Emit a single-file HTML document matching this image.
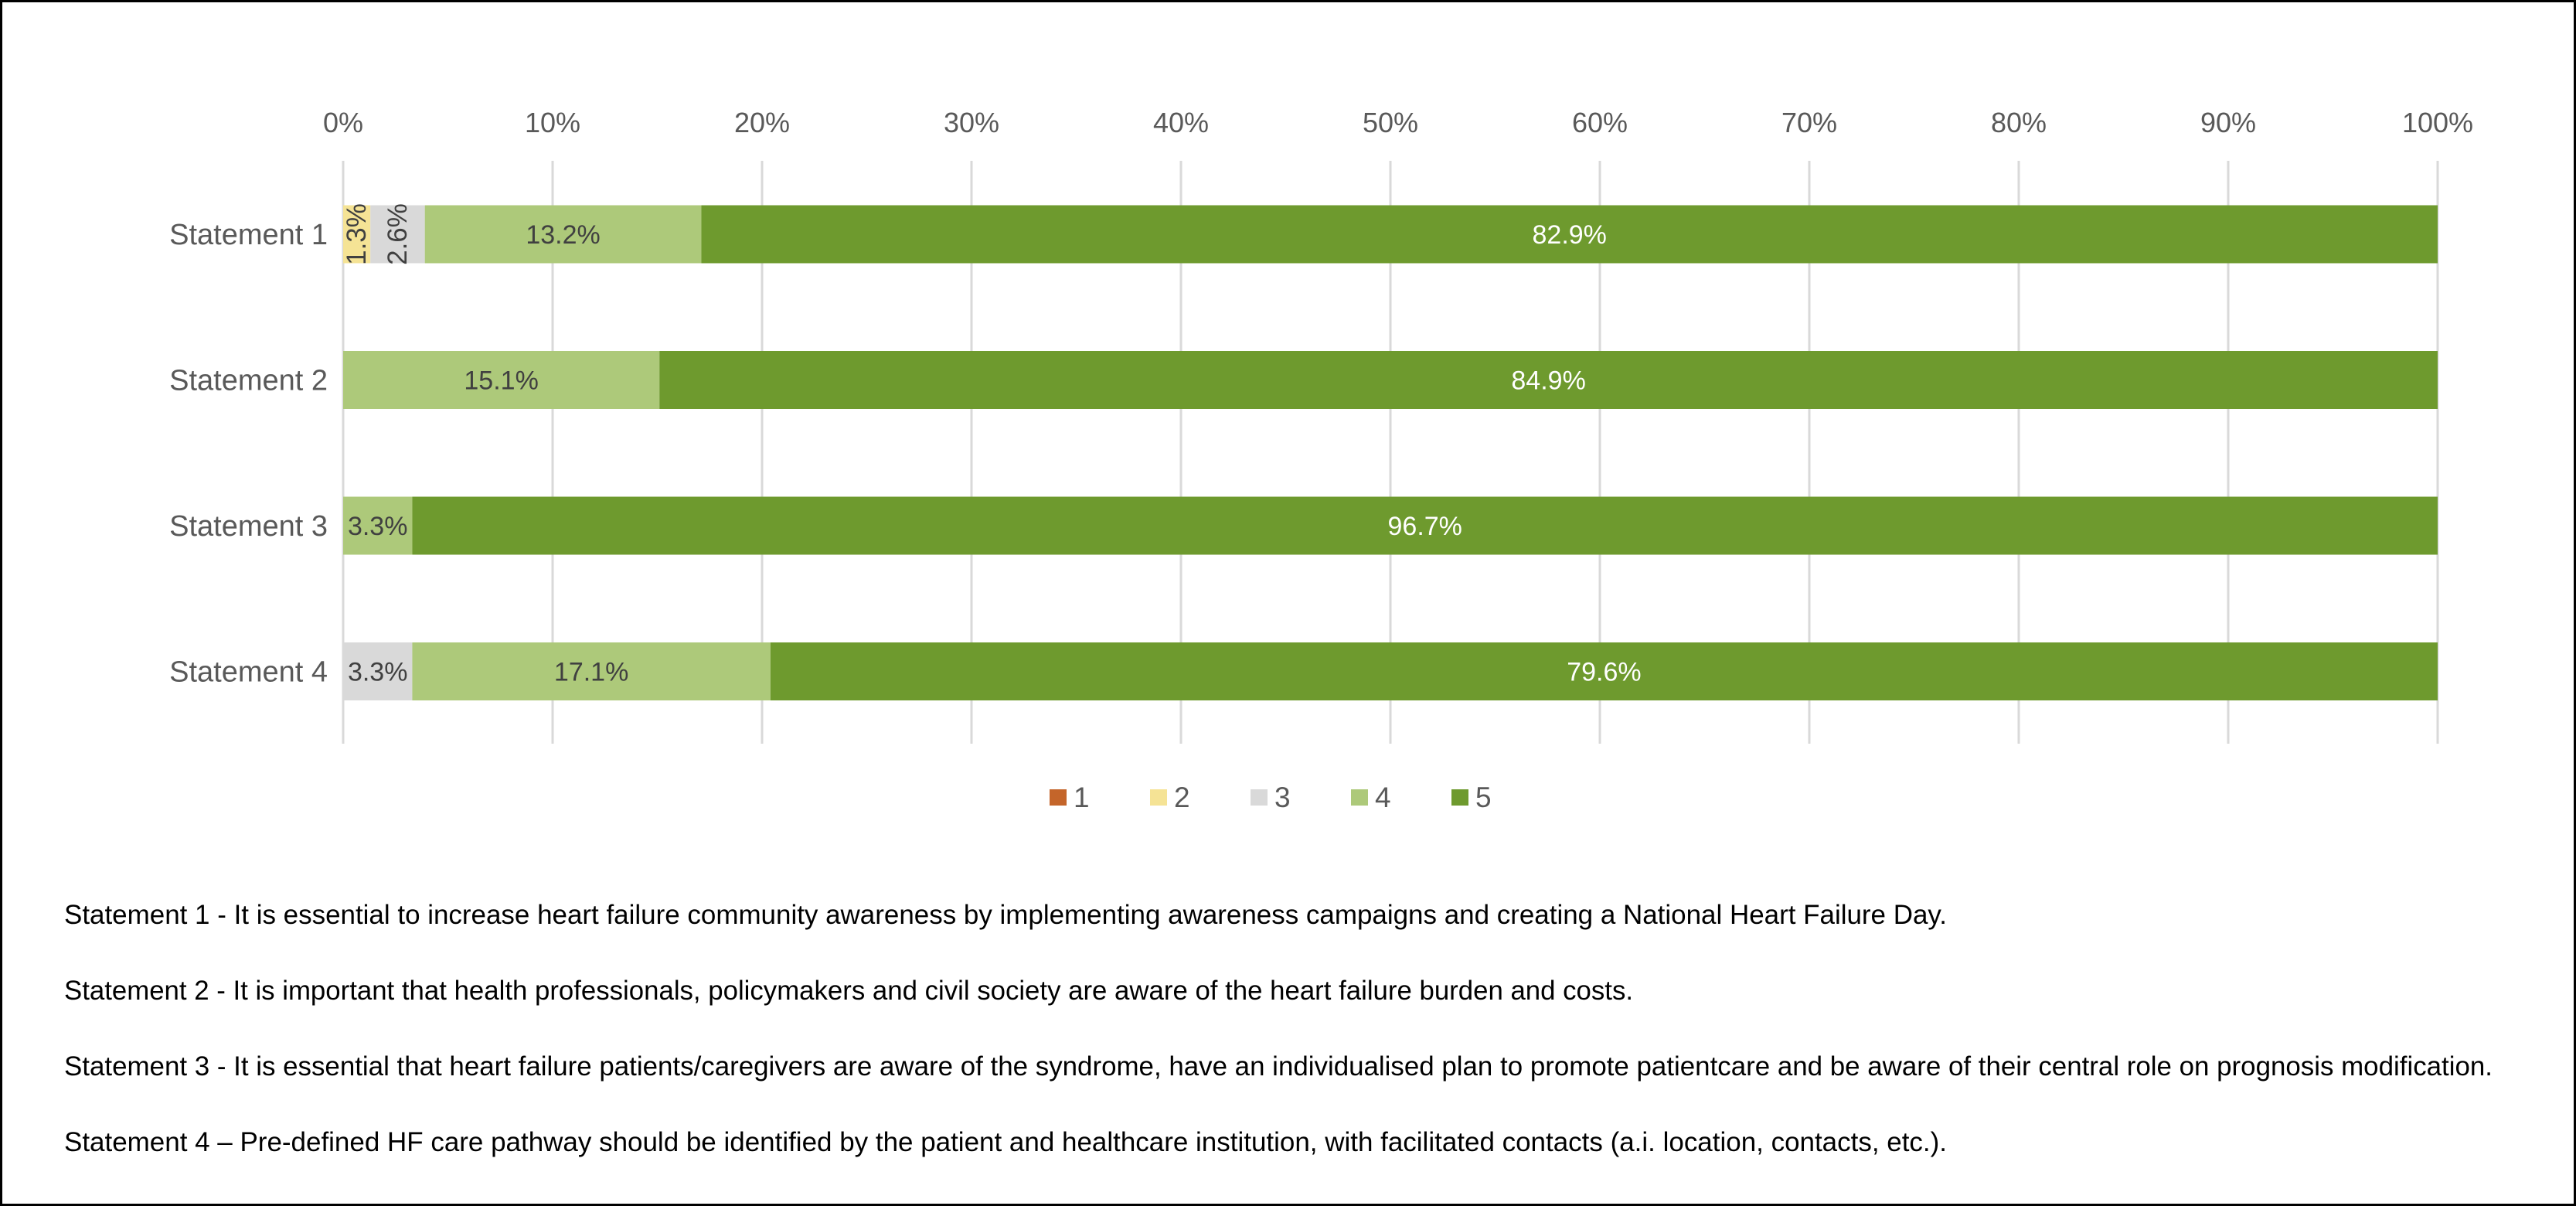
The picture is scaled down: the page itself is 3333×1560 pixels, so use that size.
<!DOCTYPE html>
<html><head><meta charset="utf-8"><style>
html,body{margin:0;padding:0;background:#fff}
svg{display:block;font-family:"Liberation Sans",Arial,sans-serif}
</style></head><body>
<svg id="chart" width="3333" height="1560" viewBox="0 0 3333 1560" xmlns="http://www.w3.org/2000/svg">
<rect x="1.5" y="1.5" width="3330" height="1557" fill="#fff" stroke="#000" stroke-width="3"/>
<g id="grid"></g><g id="ticks"></g><g id="bars"></g><g id="cats"></g><g id="legend"></g>
<g id="notes" fill="#000" font-size="35">
<text x="83" y="1195" textLength="2436" lengthAdjust="spacingAndGlyphs">Statement 1 - It is essential to increase heart failure community awareness by implementing awareness campaigns and creating a National Heart Failure Day.</text>
<text x="83" y="1293" textLength="2030" lengthAdjust="spacingAndGlyphs">Statement 2 - It is important that health professionals, policymakers and civil society are aware of the heart failure burden and costs.</text>
<text x="83" y="1391" textLength="3142" lengthAdjust="spacingAndGlyphs">Statement 3 - It is essential that heart failure patients/caregivers are aware of the syndrome, have an individualised plan to promote patientcare and be aware of their central role on prognosis modification.</text>
<text x="83" y="1489" textLength="2436" lengthAdjust="spacingAndGlyphs">Statement 4 – Pre-defined HF care pathway should be identified by the patient and healthcare institution, with facilitated contacts (a.i. location, contacts, etc.).</text>
</g>
</svg>
<script>
const categories = ["Statement 1","Statement 2","Statement 3","Statement 4"];
const seriesNames = ["1","2","3","4","5"];
const s1 = [0,0,0,0];
const s2 = [1.3,0,0,0];
const s3 = [2.6,0,0,3.3];
const s4 = [13.2,15.1,3.3,17.1];
const s5 = [82.9,84.9,96.7,79.6];
const tickLabels = ["0%","10%","20%","30%","40%","50%","60%","70%","80%","90%","100%"];
const tickValues = [0,10,20,30,40,50,60,70,80,90,100];

const colors = ["#c4652a","#f5e395","#d9d9d9","#adc97a","#6e9a2e"];
const labelColors = ["#404040","#404040","#404040","#404040","#ffffff"];
const NS = "http://www.w3.org/2000/svg";
const x0 = 444, x1 = 3154, plotTop = 208, plotBot = 962, band = 188.5, barH = 75;
function xs(v){ return x0 + (x1 - x0) * v / 100; }
function yc(i){ return 303 + i * band; }
function mk(tag, attrs, parent){ const e = document.createElementNS(NS, tag); for (const k in attrs) e.setAttribute(k, attrs[k]); parent.appendChild(e); return e; }

const grid = document.getElementById('grid'), ticks = document.getElementById('ticks');
tickValues.forEach((v, i) => {
  const l = mk('line', {x1: xs(v), x2: xs(v), y1: plotTop, y2: plotBot, stroke: '#d9d9d9', 'stroke-width': 3}, grid);
  
  
  const t = mk('text', {x: xs(v), y: 171, 'text-anchor': 'middle', 'font-size': 36, fill: '#595959'}, ticks);
  t.textContent = tickLabels[i];
  
  
});

const series = [s1, s2, s3, s4, s5];
const bars = document.getElementById('bars'), cats = document.getElementById('cats');
categories.forEach((c, i) => {
  const ct = mk('text', {x: 424, y: yc(i) + 13, 'text-anchor': 'end', 'font-size': 38, fill: '#595959'}, cats);
  ct.textContent = c;
  
  
  let acc = 0;
  series.forEach((s, k) => {
    const v = s[i];
    if (v <= 0) return;
    const xa = xs(acc), xb = xs(acc + v);
    const r = mk('rect', {x: xa, y: yc(i) - barH / 2, width: xb - xa, height: barH, fill: colors[k]}, bars);
    
    
    const cx = (xa + xb) / 2, cy = yc(i);
    const txt = v.toFixed(1) + '%';
    let t;
    if (v < 3) {
      t = mk('text', {x: cx, y: cy, 'text-anchor': 'middle', 'dominant-baseline': 'central', 'font-size': 35, fill: labelColors[k], transform: 'rotate(-90 ' + cx + ' ' + cy + ')'}, bars);
    } else {
      t = mk('text', {x: cx, y: cy + 12, 'text-anchor': 'middle', 'font-size': 34, fill: labelColors[k]}, bars);
    }
    t.textContent = txt;
    
    
    acc += v;
  });
});

const legend = document.getElementById('legend');
seriesNames.forEach((n, k) => {
  const lx = 1358 + k * 130;
  const g = mk('g', {}, legend);
  
  
  mk('rect', {x: lx, y: 1021, width: 22, height: 21, fill: colors[k]}, g);
  const t = mk('text', {x: lx + 31, y: 1044, 'font-size': 37, fill: '#595959'}, g);
  t.textContent = n;
});
</script>
</body></html>
